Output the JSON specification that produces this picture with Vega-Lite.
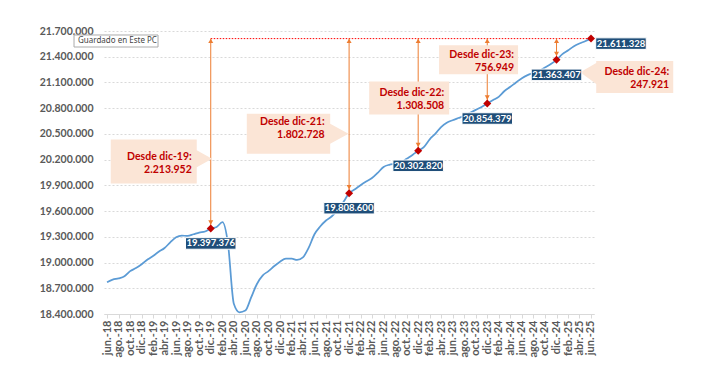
{
  "$schema": "https://vega.github.io/schema/vega-lite/v6.json",
  "width": 490,
  "height": 283,
  "autosize": "none",
  "padding": {"left": 104, "top": 31, "right": 130, "bottom": 54},
  "background": "white",
  "config": {
    "view": {"stroke": null},
    "locale": {"number": {"decimal": ",", "thousands": ".", "grouping": [3], "currency": ["", " €"]}}
  },
  "datasets": {
    "serie": [
      {"fecha": "2018-06-01", "valor": 18770000},
      {"fecha": "2018-07-01", "valor": 18800000},
      {"fecha": "2018-08-01", "valor": 18815000},
      {"fecha": "2018-09-01", "valor": 18840000},
      {"fecha": "2018-10-01", "valor": 18900000},
      {"fecha": "2018-11-01", "valor": 18935000},
      {"fecha": "2018-12-01", "valor": 18980000},
      {"fecha": "2019-01-01", "valor": 19035000},
      {"fecha": "2019-02-01", "valor": 19080000},
      {"fecha": "2019-03-01", "valor": 19125000},
      {"fecha": "2019-04-01", "valor": 19170000},
      {"fecha": "2019-05-01", "valor": 19235000},
      {"fecha": "2019-06-01", "valor": 19295000},
      {"fecha": "2019-07-01", "valor": 19315000},
      {"fecha": "2019-08-01", "valor": 19310000},
      {"fecha": "2019-09-01", "valor": 19330000},
      {"fecha": "2019-10-01", "valor": 19350000},
      {"fecha": "2019-11-01", "valor": 19362000},
      {"fecha": "2019-12-01", "valor": 19397376},
      {"fecha": "2020-01-01", "valor": 19415000},
      {"fecha": "2020-02-01", "valor": 19470000},
      {"fecha": "2020-03-01", "valor": 19220000},
      {"fecha": "2020-04-01", "valor": 18520000},
      {"fecha": "2020-05-01", "valor": 18420000},
      {"fecha": "2020-06-01", "valor": 18440000},
      {"fecha": "2020-07-01", "valor": 18590000},
      {"fecha": "2020-08-01", "valor": 18750000},
      {"fecha": "2020-09-01", "valor": 18850000},
      {"fecha": "2020-10-01", "valor": 18900000},
      {"fecha": "2020-11-01", "valor": 18960000},
      {"fecha": "2020-12-01", "valor": 19010000},
      {"fecha": "2021-01-01", "valor": 19045000},
      {"fecha": "2021-02-01", "valor": 19045000},
      {"fecha": "2021-03-01", "valor": 19030000},
      {"fecha": "2021-04-01", "valor": 19060000},
      {"fecha": "2021-05-01", "valor": 19170000},
      {"fecha": "2021-06-01", "valor": 19330000},
      {"fecha": "2021-07-01", "valor": 19420000},
      {"fecha": "2021-08-01", "valor": 19490000},
      {"fecha": "2021-09-01", "valor": 19540000},
      {"fecha": "2021-10-01", "valor": 19610000},
      {"fecha": "2021-11-01", "valor": 19705000},
      {"fecha": "2021-12-01", "valor": 19808600},
      {"fecha": "2022-01-01", "valor": 19855000},
      {"fecha": "2022-02-01", "valor": 19905000},
      {"fecha": "2022-03-01", "valor": 19945000},
      {"fecha": "2022-04-01", "valor": 19985000},
      {"fecha": "2022-05-01", "valor": 20045000},
      {"fecha": "2022-06-01", "valor": 20115000},
      {"fecha": "2022-07-01", "valor": 20140000},
      {"fecha": "2022-08-01", "valor": 20150000},
      {"fecha": "2022-09-01", "valor": 20165000},
      {"fecha": "2022-10-01", "valor": 20210000},
      {"fecha": "2022-11-01", "valor": 20255000},
      {"fecha": "2022-12-01", "valor": 20302820},
      {"fecha": "2023-01-01", "valor": 20350000},
      {"fecha": "2023-02-01", "valor": 20440000},
      {"fecha": "2023-03-01", "valor": 20500000},
      {"fecha": "2023-04-01", "valor": 20580000},
      {"fecha": "2023-05-01", "valor": 20630000},
      {"fecha": "2023-06-01", "valor": 20660000},
      {"fecha": "2023-07-01", "valor": 20685000},
      {"fecha": "2023-08-01", "valor": 20710000},
      {"fecha": "2023-09-01", "valor": 20745000},
      {"fecha": "2023-10-01", "valor": 20780000},
      {"fecha": "2023-11-01", "valor": 20815000},
      {"fecha": "2023-12-01", "valor": 20854379},
      {"fecha": "2024-01-01", "valor": 20895000},
      {"fecha": "2024-02-01", "valor": 20935000},
      {"fecha": "2024-03-01", "valor": 21000000},
      {"fecha": "2024-04-01", "valor": 21050000},
      {"fecha": "2024-05-01", "valor": 21100000},
      {"fecha": "2024-06-01", "valor": 21150000},
      {"fecha": "2024-07-01", "valor": 21185000},
      {"fecha": "2024-08-01", "valor": 21210000},
      {"fecha": "2024-09-01", "valor": 21235000},
      {"fecha": "2024-10-01", "valor": 21275000},
      {"fecha": "2024-11-01", "valor": 21315000},
      {"fecha": "2024-12-01", "valor": 21363407},
      {"fecha": "2025-01-01", "valor": 21430000},
      {"fecha": "2025-02-01", "valor": 21475000},
      {"fecha": "2025-03-01", "valor": 21520000},
      {"fecha": "2025-04-01", "valor": 21555000},
      {"fecha": "2025-05-01", "valor": 21580000},
      {"fecha": "2025-06-01", "valor": 21611328}
    ],
    "hitos": [
      {"fecha": "2019-12-01", "valor": 19397376, "desde": "dic-19", "texto": "Desde dic-19:\n2.213.952"},
      {"fecha": "2021-12-01", "valor": 19808600, "desde": "dic-21", "texto": "Desde dic-21:\n1.802.728"},
      {"fecha": "2022-12-01", "valor": 20302820, "desde": "dic-22", "texto": "Desde dic-22:\n1.308.508"},
      {"fecha": "2023-12-01", "valor": 20854379, "desde": "dic-23", "texto": "Desde dic-23:\n756.949"},
      {"fecha": "2024-12-01", "valor": 21363407, "desde": "dic-24", "texto": "Desde dic-24:\n247.921"},
      {"fecha": "2025-06-01", "valor": 21611328, "desde": "jun-25", "texto": ""}
    ],
    "referencia": [
      {"desde": "2019-12-01", "hasta": "2025-06-01", "valor": 21611328}
    ],
    "aviso": [
      {"texto": "Guardado en Este PC"}
    ]
  },
  "layer": [
    {
      "data": {"name": "serie"},
      "mark": {"type": "line", "color": "#5B9BD5", "strokeWidth": 1.75, "interpolate": "monotone"},
      "encoding": {
        "x": {
          "field": "fecha", "type": "temporal",
          "scale": {"type": "utc", "domain": [{"year": 2018, "month": 5, "date": 16, "utc": true}, {"year": 2025, "month": 6, "date": 17, "utc": true}]},
          "axis": {
            "title": null, "grid": false, "tickCount": 200,
            "values": [
              {"year": 2018, "month": 6, "date": 1, "utc": true}, {"year": 2018, "month": 8, "date": 1, "utc": true}, {"year": 2018, "month": 10, "date": 1, "utc": true}, {"year": 2018, "month": 12, "date": 1, "utc": true},
              {"year": 2019, "month": 2, "date": 1, "utc": true}, {"year": 2019, "month": 4, "date": 1, "utc": true}, {"year": 2019, "month": 6, "date": 1, "utc": true}, {"year": 2019, "month": 8, "date": 1, "utc": true}, {"year": 2019, "month": 10, "date": 1, "utc": true}, {"year": 2019, "month": 12, "date": 1, "utc": true},
              {"year": 2020, "month": 2, "date": 1, "utc": true}, {"year": 2020, "month": 4, "date": 1, "utc": true}, {"year": 2020, "month": 6, "date": 1, "utc": true}, {"year": 2020, "month": 8, "date": 1, "utc": true}, {"year": 2020, "month": 10, "date": 1, "utc": true}, {"year": 2020, "month": 12, "date": 1, "utc": true},
              {"year": 2021, "month": 2, "date": 1, "utc": true}, {"year": 2021, "month": 4, "date": 1, "utc": true}, {"year": 2021, "month": 6, "date": 1, "utc": true}, {"year": 2021, "month": 8, "date": 1, "utc": true}, {"year": 2021, "month": 10, "date": 1, "utc": true}, {"year": 2021, "month": 12, "date": 1, "utc": true},
              {"year": 2022, "month": 2, "date": 1, "utc": true}, {"year": 2022, "month": 4, "date": 1, "utc": true}, {"year": 2022, "month": 6, "date": 1, "utc": true}, {"year": 2022, "month": 8, "date": 1, "utc": true}, {"year": 2022, "month": 10, "date": 1, "utc": true}, {"year": 2022, "month": 12, "date": 1, "utc": true},
              {"year": 2023, "month": 2, "date": 1, "utc": true}, {"year": 2023, "month": 4, "date": 1, "utc": true}, {"year": 2023, "month": 6, "date": 1, "utc": true}, {"year": 2023, "month": 8, "date": 1, "utc": true}, {"year": 2023, "month": 10, "date": 1, "utc": true}, {"year": 2023, "month": 12, "date": 1, "utc": true},
              {"year": 2024, "month": 2, "date": 1, "utc": true}, {"year": 2024, "month": 4, "date": 1, "utc": true}, {"year": 2024, "month": 6, "date": 1, "utc": true}, {"year": 2024, "month": 8, "date": 1, "utc": true}, {"year": 2024, "month": 10, "date": 1, "utc": true}, {"year": 2024, "month": 12, "date": 1, "utc": true},
              {"year": 2025, "month": 2, "date": 1, "utc": true}, {"year": 2025, "month": 4, "date": 1, "utc": true}, {"year": 2025, "month": 6, "date": 1, "utc": true}
            ],
            "labelExpr": "['ene','feb','mar','abr','may','jun','jul','ago','sep','oct','nov','dic'][utcmonth(datum.value)] + '.-' + utcFormat(datum.value, '%y')",
            "labelAngle": 270, "labelAlign": "right", "labelBaseline": "middle",
            "labelFont": "Lato", "labelFontSize": 11, "labelFontWeight": "bold", "labelColor": "#595959",
            "labelPadding": 2, "labelOverlap": false, "labelFlush": false,
            "tickColor": "#D9D9D9", "tickSize": 4, "domainColor": "#D9D9D9"
          }
        },
        "y": {
          "field": "valor", "type": "quantitative",
          "scale": {"domain": [18400000, 21700000], "nice": false, "zero": false},
          "axis": {
            "title": null, "tickCount": 100,
            "values": [18400000, 18700000, 19000000, 19300000, 19600000, 19900000, 20200000, 20500000, 20800000, 21100000, 21400000, 21700000],
            "format": ",d",
            "grid": true, "gridColor": "#D9D9D9", "gridDash": [2, 2],
            "domain": false, "ticks": false, "tickSize": 0, "labelPadding": 11,
            "labelOverlap": false, "labelFlush": false,
            "labelFont": "Lato", "labelFontSize": 10.5, "labelFontWeight": "bold", "labelColor": "#595959"
          }
        }
      }
    },
    {
      "data": {"name": "referencia"},
      "mark": {"type": "rule", "color": "#FF0000", "strokeWidth": 1, "strokeDash": [1.5, 1.5]},
      "encoding": {
        "x": {"field": "desde", "type": "temporal"},
        "x2": {"field": "hasta"},
        "y": {"field": "valor", "type": "quantitative"}
      }
    },
    {
      "data": {"name": "hitos"},
      "transform": [{"filter": "datum.desde != 'jun-25'"}],
      "mark": {"type": "rule", "color": "#ED7D31", "strokeWidth": 1},
      "encoding": {
        "x": {"field": "fecha", "type": "temporal"},
        "y": {"field": "valor", "type": "quantitative"},
        "y2": {"datum": 21611328}
      }
    },
    {
      "data": {"name": "hitos"},
      "transform": [{"filter": "datum.desde != 'jun-25'"}],
      "mark": {"type": "point", "shape": "triangle-up", "size": 25, "filled": true, "color": "#ED7D31", "opacity": 1, "yOffset": 2.2},
      "encoding": {
        "x": {"field": "fecha", "type": "temporal"},
        "y": {"datum": 21611328, "type": "quantitative"}
      }
    },
    {
      "data": {"name": "hitos"},
      "transform": [{"filter": "datum.desde != 'jun-25'"}],
      "mark": {"type": "point", "shape": "triangle-down", "size": 25, "filled": true, "color": "#ED7D31", "opacity": 1, "yOffset": -6},
      "encoding": {
        "x": {"field": "fecha", "type": "temporal"},
        "y": {"field": "valor", "type": "quantitative"}
      }
    },
    {
      "data": {"name": "hitos"},
      "mark": {"type": "point", "shape": "diamond", "size": 64, "filled": true, "color": "#C00000", "opacity": 1},
      "encoding": {
        "x": {"field": "fecha", "type": "temporal"},
        "y": {"field": "valor", "type": "quantitative"}
      }
    },
    {
      "data": {"name": "hitos"},
      "transform": [{"filter": {"field": "desde", "equal": "dic-19"}}],
      "mark": {"type": "point", "shape": "M-1,-0.512H1V-0.26L1.356,-0.063L1,0.135V0.512H-1Z", "size": 7396, "filled": true, "color": "#FBE5D6", "opacity": 1, "xOffset": -57, "yOffset": -67},
      "encoding": {"x": {"field": "fecha", "type": "temporal"}, "y": {"field": "valor", "type": "quantitative"}}
    },
    {
      "data": {"name": "hitos"},
      "transform": [{"filter": {"field": "desde", "equal": "dic-19"}}],
      "mark": {"type": "text", "align": "right", "baseline": "middle", "lineBreak": "\n", "lineHeight": 13, "font": "Lato", "fontSize": 10.5, "fontWeight": "bold", "color": "#C00000", "dx": -19, "dy": -71},
      "encoding": {"x": {"field": "fecha", "type": "temporal"}, "y": {"field": "valor", "type": "quantitative"}, "text": {"field": "texto"}}
    },
    {
      "data": {"name": "hitos"},
      "transform": [{"filter": {"field": "desde", "equal": "dic-21"}}],
      "mark": {"type": "point", "shape": "M-1,-0.48H1V-0.24L1.439,0L1,0.24V0.48H-1Z", "size": 6956, "filled": true, "color": "#FBE5D6", "opacity": 1, "xOffset": -60.6, "yOffset": -59.4},
      "encoding": {"x": {"field": "fecha", "type": "temporal"}, "y": {"field": "valor", "type": "quantitative"}}
    },
    {
      "data": {"name": "hitos"},
      "transform": [{"filter": {"field": "desde", "equal": "dic-21"}}],
      "mark": {"type": "text", "align": "right", "baseline": "middle", "lineBreak": "\n", "lineHeight": 13, "font": "Lato", "fontSize": 10.5, "fontWeight": "bold", "color": "#C00000", "dx": -24.4, "dy": -71.5},
      "encoding": {"x": {"field": "fecha", "type": "temporal"}, "y": {"field": "valor", "type": "quantitative"}, "text": {"field": "texto"}}
    },
    {
      "data": {"name": "hitos"},
      "transform": [{"filter": {"field": "desde", "equal": "dic-22"}}],
      "mark": {"type": "point", "shape": "M-1,-0.4125H1V0.4125H-1Z", "size": 6400, "filled": true, "color": "#FBE5D6", "opacity": 1, "xOffset": -9, "yOffset": -52.9},
      "encoding": {"x": {"field": "fecha", "type": "temporal"}, "y": {"field": "valor", "type": "quantitative"}}
    },
    {
      "data": {"name": "hitos"},
      "transform": [{"filter": {"field": "desde", "equal": "dic-22"}}],
      "mark": {"type": "text", "align": "right", "baseline": "middle", "lineBreak": "\n", "lineHeight": 13, "font": "Lato", "fontSize": 10.5, "fontWeight": "bold", "color": "#C00000", "dx": 26, "dy": -57.5},
      "encoding": {"x": {"field": "fecha", "type": "temporal"}, "y": {"field": "valor", "type": "quantitative"}, "text": {"field": "texto"}}
    },
    {
      "data": {"name": "hitos"},
      "transform": [{"filter": {"field": "desde", "equal": "dic-23"}}],
      "mark": {"type": "point", "shape": "M-1,-0.367H1V0.367H-1Z", "size": 6241, "filled": true, "color": "#FBE5D6", "opacity": 1, "xOffset": -8.7, "yOffset": -43.8},
      "encoding": {"x": {"field": "fecha", "type": "temporal"}, "y": {"field": "valor", "type": "quantitative"}}
    },
    {
      "data": {"name": "hitos"},
      "transform": [{"filter": {"field": "desde", "equal": "dic-23"}}],
      "mark": {"type": "text", "align": "right", "baseline": "middle", "lineBreak": "\n", "lineHeight": 13, "font": "Lato", "fontSize": 10.5, "fontWeight": "bold", "color": "#C00000", "dx": 26.8, "dy": -48.5},
      "encoding": {"x": {"field": "fecha", "type": "temporal"}, "y": {"field": "valor", "type": "quantitative"}, "text": {"field": "texto"}}
    },
    {
      "data": {"name": "hitos"},
      "transform": [{"filter": {"field": "desde", "equal": "dic-24"}}],
      "mark": {"type": "point", "shape": "M-1,-0.4156H1V0.4156H-1V0.182L-1.416,-0.122L-1,-0.364Z", "size": 5929, "filled": true, "color": "#FBE5D6", "opacity": 1, "xOffset": 78.2, "yOffset": 17.2},
      "encoding": {"x": {"field": "fecha", "type": "temporal"}, "y": {"field": "valor", "type": "quantitative"}}
    },
    {
      "data": {"name": "hitos"},
      "transform": [{"filter": {"field": "desde", "equal": "dic-24"}}],
      "mark": {"type": "text", "align": "right", "baseline": "middle", "lineBreak": "\n", "lineHeight": 13, "font": "Lato", "fontSize": 10.5, "fontWeight": "bold", "color": "#C00000", "dx": 112.7, "dy": 12.5},
      "encoding": {"x": {"field": "fecha", "type": "temporal"}, "y": {"field": "valor", "type": "quantitative"}, "text": {"field": "texto"}}
    },
    {
      "data": {"name": "hitos"},
      "transform": [{"filter": "datum.desde != 'jun-25'"}],
      "mark": {"type": "point", "shape": "M-1,-0.228H1V0.228H-1Z", "size": 2550, "filled": true, "color": "#1F4E79", "stroke": "#FFFFFF", "strokeWidth": 1, "opacity": 1, "yOffset": 15},
      "encoding": {"x": {"field": "fecha", "type": "temporal"}, "y": {"field": "valor", "type": "quantitative"}}
    },
    {
      "data": {"name": "hitos"},
      "transform": [{"filter": "datum.desde != 'jun-25'"}],
      "mark": {"type": "text", "align": "center", "baseline": "middle", "font": "Lato", "fontSize": 9.5, "fontWeight": "bold", "color": "#FFFFFF", "dy": 15},
      "encoding": {"x": {"field": "fecha", "type": "temporal"}, "y": {"field": "valor", "type": "quantitative"}, "text": {"field": "valor", "type": "quantitative", "format": ",d"}}
    },
    {
      "data": {"name": "hitos"},
      "transform": [{"filter": {"field": "desde", "equal": "jun-25"}}],
      "mark": {"type": "point", "shape": "M-1,-0.228H1V0.228H-1Z", "size": 2550, "filled": true, "color": "#1F4E79", "stroke": "#FFFFFF", "strokeWidth": 1, "opacity": 1, "xOffset": 30, "yOffset": 5},
      "encoding": {"x": {"field": "fecha", "type": "temporal"}, "y": {"field": "valor", "type": "quantitative"}}
    },
    {
      "data": {"name": "hitos"},
      "transform": [{"filter": {"field": "desde", "equal": "jun-25"}}],
      "mark": {"type": "text", "align": "center", "baseline": "middle", "font": "Lato", "fontSize": 9.5, "fontWeight": "bold", "color": "#FFFFFF", "dx": 30, "dy": 5},
      "encoding": {"x": {"field": "fecha", "type": "temporal"}, "y": {"field": "valor", "type": "quantitative"}, "text": {"field": "valor", "type": "quantitative", "format": ",d"}}
    },
    {
      "data": {"name": "aviso"},
      "mark": {"type": "point", "shape": "M-1,-0.143H1V0.143H-1Z", "size": 7056, "filled": true, "color": "#FFFFFF", "stroke": "#ABABAB", "strokeWidth": 1, "opacity": 1, "xOffset": 9, "yOffset": 10},
      "encoding": {
        "x": {"datum": {"year": 2018, "month": 6, "date": 1, "utc": true}, "type": "temporal"},
        "y": {"datum": 21700000, "type": "quantitative"}
      }
    },
    {
      "data": {"name": "aviso"},
      "mark": {"type": "text", "align": "left", "baseline": "middle", "font": "Noto Sans", "fontSize": 8, "color": "#444444", "dx": -29, "dy": 10},
      "encoding": {
        "x": {"datum": {"year": 2018, "month": 6, "date": 1, "utc": true}, "type": "temporal"},
        "y": {"datum": 21700000, "type": "quantitative"},
        "text": {"field": "texto"}
      }
    }
  ]
}
